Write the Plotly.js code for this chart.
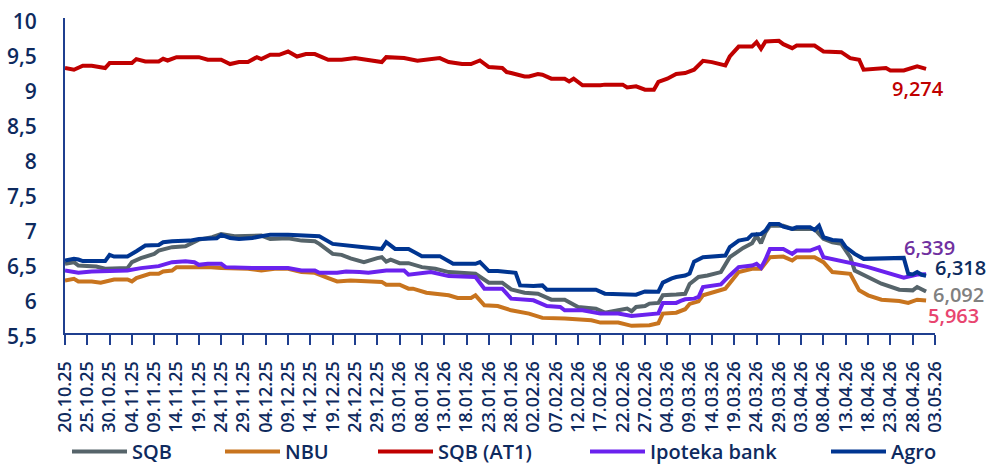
<!DOCTYPE html>
<html>
<head>
<meta charset="utf-8">
<script src="https://cdn.plot.ly/plotly-3.0.1.min.js"></script>
<style>
html,body{margin:0;padding:0;background:#fff;}
#chart{width:989px;height:471px;}
</style>
</head>
<body>
<div id="chart"></div>
<script>
// x values: days since START_DATE; y values: yield (%)
const START_DATE = '2025-10-20';
const AXIS_END = '2026-05-03';

const seriesNames = ['SQB', 'NBU', 'SQB (AT1)', 'Ipoteka bank', 'Agro'];

const sqb = [[0,6.488],[2,6.512],[3,6.464],[5,6.464],[7,6.450],[9,6.417],[12,6.427],[14,6.427],[15,6.512],[17,6.569],[20,6.630],[21,6.677],[24,6.726],[27,6.740],[30,6.834],[33,6.868],[35,6.915],[38,6.882],[44,6.891],[46,6.844],[50,6.853],[53,6.820],[56,6.811],[57,6.773],[60,6.630],[62,6.616],[64,6.565],[66,6.530],[67,6.512],[70,6.569],[71,6.583],[72,6.520],[73,6.549],[75,6.498],[77,6.498],[80,6.441],[83,6.417],[86,6.370],[92,6.346],[95,6.218],[98,6.218],[100,6.123],[103,6.076],[106,6.062],[109,5.976],[112,5.976],[115,5.872],[119,5.848],[121,5.791],[124,5.824],[126,5.848],[127,5.810],[128,5.872],[130,5.886],[131,5.920],[133,5.930],[134,6.040],[137,6.050],[139,6.060],[140,6.200],[141,6.250],[142,6.300],[144,6.322],[147,6.370],[149,6.583],[152,6.716],[154,6.782],[155,6.891],[156,6.782],[157,6.939],[158,7.033],[161,7.033],[163,6.986],[168,6.986],[170,6.844],[172,6.797],[174,6.773],[176,6.583],[177,6.393],[180,6.299],[183,6.204],[187,6.118],[190,6.109],[191,6.157],[193,6.092]];

const nbu = [[0,6.251],[2,6.275],[3,6.237],[6,6.237],[8,6.218],[11,6.265],[14,6.265],[15,6.237],[16,6.285],[19,6.346],[21,6.346],[22,6.379],[24,6.393],[25,6.441],[32,6.441],[35,6.427],[41,6.417],[44,6.393],[47,6.417],[50,6.417],[53,6.370],[56,6.360],[59,6.285],[61,6.237],[64,6.251],[68,6.237],[71,6.230],[72,6.190],[75,6.190],[77,6.133],[78,6.133],[81,6.076],[86,6.038],[88,6.000],[91,6.000],[92,6.038],[94,5.895],[97,5.886],[100,5.824],[104,5.777],[107,5.716],[112,5.706],[118,5.682],[120,5.649],[124,5.649],[127,5.602],[131,5.611],[133,5.640],[134,5.777],[137,5.790],[139,5.840],[140,5.915],[142,5.952],[143,6.038],[148,6.133],[151,6.370],[154,6.417],[156,6.417],[158,6.583],[161,6.592],[163,6.535],[164,6.583],[168,6.583],[170,6.512],[172,6.370],[176,6.346],[178,6.109],[180,6.038],[183,5.976],[187,5.958],[189,5.929],[191,5.976],[193,5.963]];

const sqbAT1 = [[0,9.285],[2,9.261],[4,9.318],[6,9.318],[9,9.285],[10,9.356],[15,9.356],[16,9.413],[18,9.379],[21,9.379],[22,9.417],[23,9.393],[25,9.441],[30,9.441],[32,9.403],[35,9.403],[37,9.342],[39,9.370],[41,9.370],[43,9.441],[44,9.413],[46,9.474],[48,9.474],[50,9.521],[52,9.450],[54,9.484],[56,9.484],[59,9.403],[62,9.403],[65,9.427],[71,9.370],[72,9.441],[76,9.427],[79,9.389],[84,9.427],[86,9.370],[89,9.342],[91,9.342],[93,9.393],[95,9.299],[98,9.285],[99,9.228],[100,9.214],[103,9.166],[104,9.166],[106,9.200],[107,9.190],[109,9.133],[112,9.133],[113,9.095],[114,9.133],[116,9.038],[120,9.038],[121,9.048],[125,9.048],[126,9.009],[128,9.024],[130,8.976],[132,8.976],[133,9.086],[135,9.133],[137,9.200],[139,9.214],[140,9.237],[141,9.261],[143,9.389],[145,9.370],[148,9.322],[149,9.450],[151,9.592],[154,9.592],[155,9.655],[156,9.559],[157,9.664],[160,9.674],[161,9.626],[163,9.569],[164,9.606],[168,9.606],[170,9.521],[174,9.512],[176,9.427],[178,9.403],[179,9.261],[184,9.285],[185,9.251],[188,9.251],[191,9.308],[193,9.274]];

const ipoteka = [[0,6.393],[3,6.360],[6,6.379],[11,6.393],[14,6.393],[17,6.427],[21,6.455],[24,6.512],[27,6.526],[29,6.512],[30,6.474],[32,6.488],[35,6.488],[36,6.441],[42,6.427],[50,6.427],[53,6.393],[56,6.393],[57,6.360],[61,6.360],[63,6.379],[66,6.370],[68,6.360],[72,6.393],[76,6.393],[77,6.332],[82,6.370],[86,6.313],[92,6.299],[94,6.133],[98,6.133],[100,5.991],[105,5.967],[108,5.886],[111,5.872],[112,5.824],[116,5.824],[120,5.777],[124,5.777],[127,5.744],[129,5.753],[131,5.760],[133,5.780],[134,5.930],[137,5.930],[138,5.958],[139,5.981],[141,5.991],[142,6.015],[143,6.157],[147,6.194],[149,6.322],[151,6.441],[154,6.464],[155,6.488],[156,6.431],[157,6.550],[158,6.701],[161,6.701],[163,6.630],[164,6.677],[167,6.677],[169,6.726],[170,6.583],[174,6.535],[177,6.488],[180,6.441],[183,6.384],[186,6.336],[188,6.289],[191,6.336],[193,6.339]];

const agro = [[0,6.535],[2,6.559],[3,6.549],[4,6.527],[9,6.527],[10,6.616],[11,6.592],[14,6.592],[16,6.668],[18,6.749],[21,6.758],[22,6.797],[24,6.811],[28,6.820],[30,6.844],[34,6.853],[35,6.901],[37,6.858],[39,6.844],[42,6.858],[44,6.882],[46,6.905],[50,6.905],[53,6.891],[57,6.882],[60,6.773],[63,6.749],[64,6.740],[67,6.726],[71,6.701],[72,6.797],[74,6.701],[77,6.701],[80,6.598],[84,6.598],[87,6.488],[92,6.488],[93,6.512],[95,6.384],[97,6.384],[101,6.360],[102,6.180],[105,6.171],[107,6.180],[108,6.118],[119,6.118],[121,6.062],[128,6.047],[130,6.094],[133,6.090],[134,6.220],[136,6.280],[137,6.300],[139,6.320],[140,6.350],[141,6.520],[143,6.583],[148,6.606],[149,6.726],[151,6.820],[153,6.844],[154,6.905],[156,6.915],[157,6.962],[158,7.057],[160,7.057],[161,7.019],[163,6.986],[164,7.010],[167,7.010],[168,6.972],[169,7.033],[170,6.868],[172,6.830],[174,6.820],[175,6.726],[177,6.630],[179,6.559],[182,6.559],[183,6.573],[188,6.573],[189,6.346],[190,6.336],[191,6.370],[192,6.332],[193,6.318]];

const seriesData = [sqb, nbu, sqbAT1, ipoteka, agro];
const lineColors = ['#56646A', '#C8741E', '#C00000', '#6A22EE', '#003591'];
const labelColors = ['#808080', '#E8456F', '#C00000', '#7030A0', '#0D2B5E'];
const labelShift = [[32,-3],[27,-15],[-8,-20],[3,27],[34,8]];
const legendLeft = [75, 228, 381, 593, 834];
const legendEntryWidth = [120, 120, 180, 200, 130];

const NAVY = '#0E2A5E';
const FONT = '"Open Sans", "Noto Sans", sans-serif';

function dayToDate(d) {
  const t = Date.UTC(2025, 9, 20) + d * 86400000;
  return new Date(t).toISOString().slice(0, 10);
}

const legendKeys = ['legend', 'legend2', 'legend3', 'legend4', 'legend5'];

const traces = seriesData.map((s, i) => ({
  type: 'scatter',
  mode: 'lines',
  name: seriesNames[i],
  legend: legendKeys[i],
  x: s.map(p => dayToDate(p[0])),
  y: s.map(p => p[1]),
  line: {color: lineColors[i], width: 4, shape: 'linear'},
  hoverinfo: 'skip'
}));

const annotations = seriesData.map((s, i) => {
  const last = s[s.length - 1];
  return {
    x: dayToDate(last[0]), y: last[1], xref: 'x', yref: 'y',
    text: last[1].toFixed(3).replace('.', ','),
    showarrow: false, xanchor: 'center', yanchor: 'middle',
    xshift: labelShift[i][0], yshift: labelShift[i][1],
    font: {family: FONT, size: 20, color: labelColors[i], weight: 600}
  };
});

const layout = {
  width: 989, height: 471,
  margin: {l: 65, r: 54, t: 18, b: 138},
  paper_bgcolor: '#ffffff', plot_bgcolor: '#ffffff',
  separators: ', ',
  showlegend: true,
  xaxis: {
    type: 'date',
    range: [START_DATE, AXIS_END],
    tick0: START_DATE, dtick: 5 * 86400000,
    tickformat: '%d.%m.%y', tickangle: -90,
    showgrid: false, zeroline: false,
    showline: true, linecolor: '#1F3F8F', linewidth: 2,
    ticks: 'outside', ticklen: 10, tickwidth: 2, tickcolor: '#1F3F8F',
    ticklabelstandoff: 9, automargin: false,
    tickfont: {family: FONT, size: 18, color: NAVY, weight: 600}
  },
  yaxis: {
    range: [5.5, 10], dtick: 0.5, tick0: 5.5,
    showgrid: false, zeroline: false,
    showline: true, linecolor: '#1F3F8F', linewidth: 2,
    ticks: '', ticklabelstandoff: 22, ticklabelshift: 4, automargin: false,
    tickfont: {family: FONT, size: 21, color: NAVY, weight: 600}
  },
  annotations: annotations
};

legendKeys.forEach((k, i) => {
  layout[k] = {
    orientation: 'h', xref: 'container', yref: 'container',
    x: (legendLeft[i] - 8) / 989, y: 0, xanchor: 'left', yanchor: 'bottom',
    font: {family: FONT, size: 20, color: NAVY, weight: 600},
    itemwidth: 55, entrywidth: legendEntryWidth[i], entrywidthmode: 'pixels',
    borderwidth: 0, bgcolor: 'rgba(0,0,0,0)'
  };
});

Plotly.newPlot('chart', traces, layout, {staticPlot: true, displayModeBar: false});
</script>
</body>
</html>
